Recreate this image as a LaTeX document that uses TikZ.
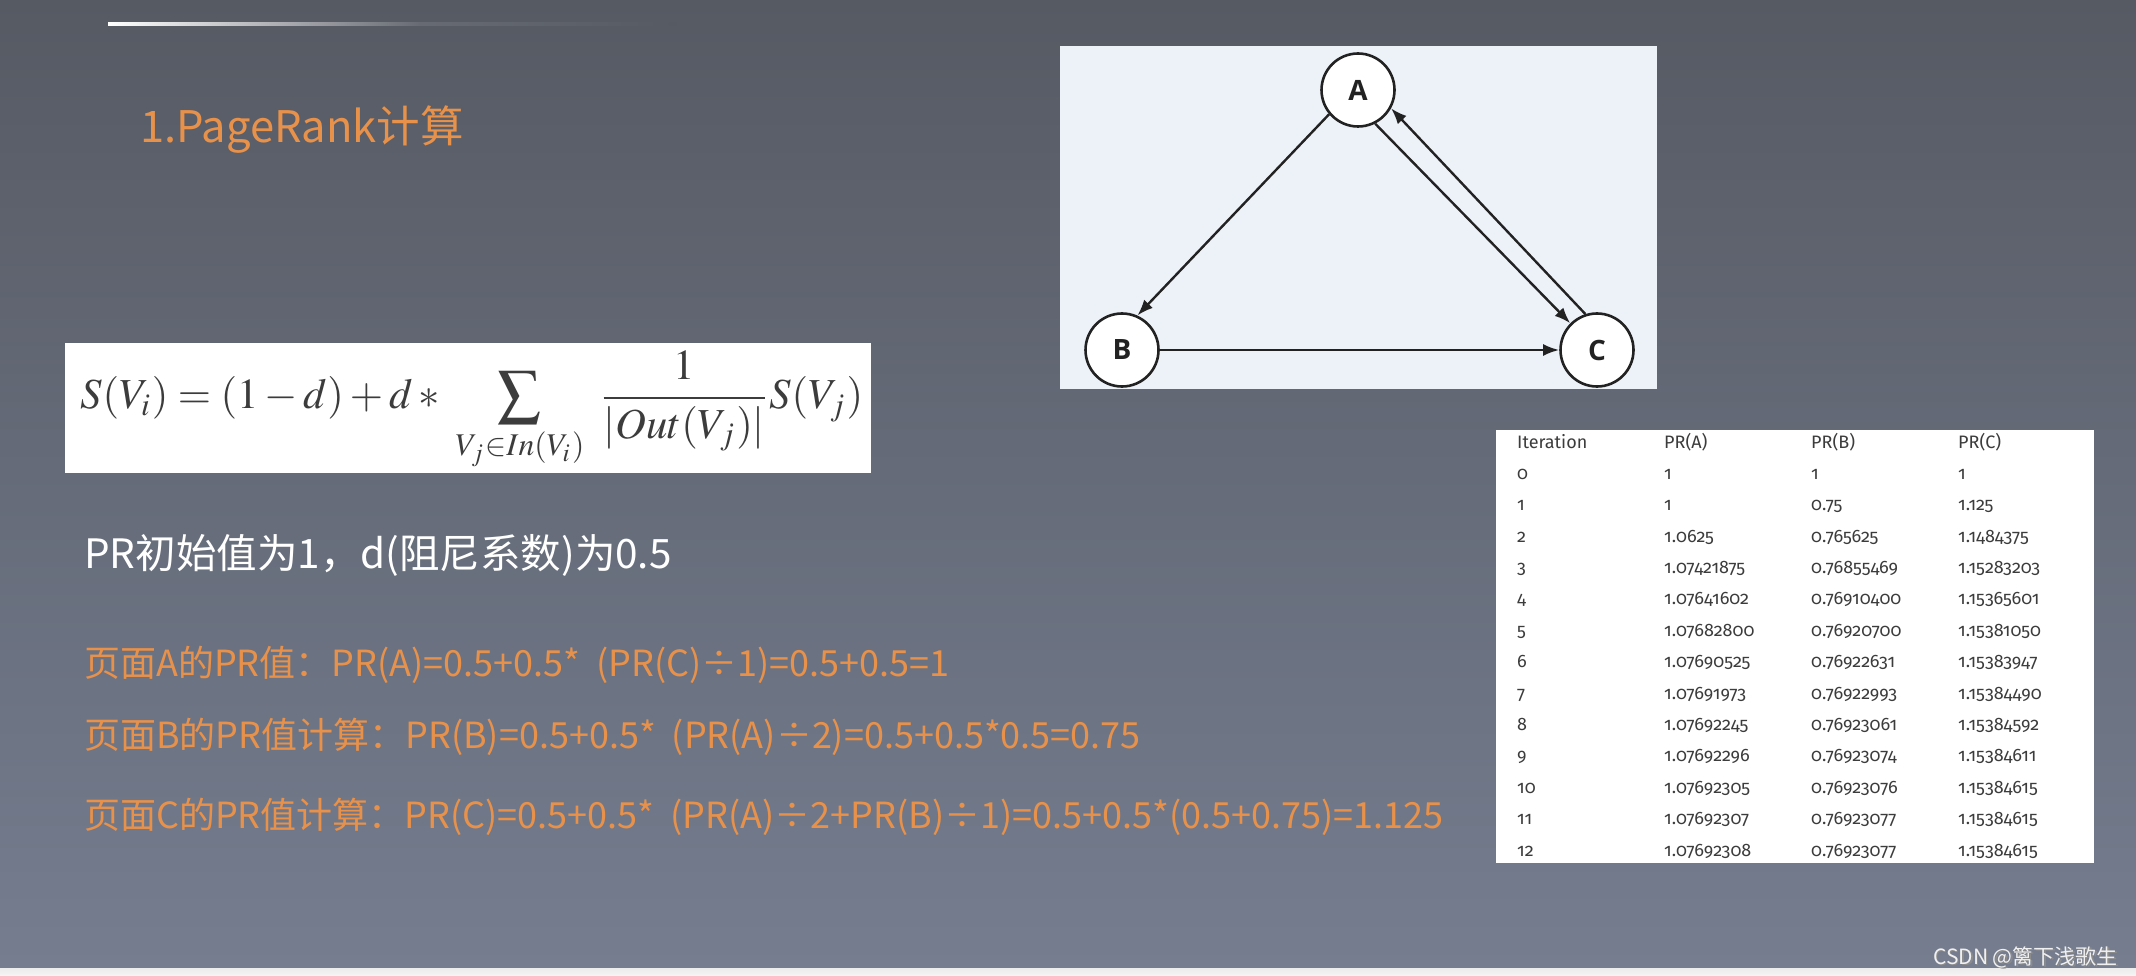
\documentclass[tikz,border=0pt]{standalone}
\usepackage{mathptmx}
\usepackage{fontspec}
\setmainfont{Noto Sans CJK SC}
\newfontfamily\tabfont[Numbers=OldStyle]{Fira Sans}
\newfontfamily\nodefont{Open Sans}
\usepackage{graphicx}
\usetikzlibrary{arrows.meta}
\definecolor{bgtop}{RGB}{86,90,99}
\definecolor{bgbot}{RGB}{117,125,143}
\definecolor{orangetxt}{RGB}{232,145,74}
\definecolor{panelbg}{RGB}{237,242,249}
\definecolor{inkdark}{RGB}{34,34,34}
\definecolor{tabink}{RGB}{60,60,60}
\definecolor{formink}{RGB}{60,60,60}
\tikzset{
  gnode/.style={circle, draw=inkdark, line width=2.6pt, fill=white, minimum size=73pt, inner sep=0pt,
    font=\nodefont\bfseries\fontsize{28pt}{30pt}\selectfont, text=inkdark},
  gedge/.style={draw=inkdark, line width=2.4pt, -{Latex[length=16pt,width=12pt]}},
  orangeline/.style={anchor=base west, inner sep=0pt, text=orangetxt, font=\fontsize{36pt}{40pt}\selectfont},
  tabcell/.style={anchor=base west, inner sep=0pt, text=tabink, font=\tabfont\fontsize{18pt}{20pt}\selectfont},
}
\begin{document}
\begin{tikzpicture}[x=1pt,y=-1pt]
\useasboundingbox (0,0) rectangle (2136,976);
% background
\shade[top color=bgtop, bottom color=bgbot] (0,0) rectangle (2136,968);
\shade[top color=white!85!gray, bottom color=white!92!gray] (0,968) rectangle (2136,976);
% decorative top line
\shade[left color=white, right color=bgtop!90!white] (108,23) rectangle (420,26);
\shade[left color=bgtop!90!white, right color=bgtop] (420,23) rectangle (676,26);

% title
\node[anchor=base west, inner sep=0pt, text=orangetxt, font=\fontsize{43.5pt}{50pt}\selectfont] (title) at (140,143) {1.PageRank计算};

% graph panel
\fill[panelbg] (1060,46) rectangle (1657,389);
\node[gnode] (A) at (1358,90) {A};
\node[gnode] (B) at (1122,350) {B};
\node[gnode] (C) at (1597,350) {C};
\draw[gedge] (A.220) -- (B.66);
\draw[gedge] (B.east) -- (C.west);
\draw[gedge] (A.297) -- (C.135);
\draw[gedge] (C.108) -- (A.331);

% formula panel
\fill[white] (65,343) rectangle (871,473);
\node[inner sep=0pt, text=formink] (formula) at (472,411) {\resizebox{782pt}{!}{$\displaystyle S(V_i) = (1-d) + d\ast \ \sum_{V_j\in In(V_i)}\ \frac{1}{|Out(V_j)|}S(V_j)$}};

% white line
\node[anchor=base west, inner sep=0pt, text=white, font=\fontsize{40.5pt}{46pt}\selectfont] (init) at (84,568) {PR初始值为1，d(阻尼系数)为0.5};

% orange lines
\node[orangeline] (lineA) at (84,676) {页面A的PR值：PR(A)=0.5+0.5*\ \ (PR(C)÷1)=0.5+0.5=1};
\node[orangeline] (lineB) at (84,748) {页面B的PR值计算：PR(B)=0.5+0.5*\ \ (PR(A)÷2)=0.5+0.5*0.5=0.75};
\node[orangeline] (lineC) at (84,828) {页面C的PR值计算：PR(C)=0.5+0.5*\ \ (PR(A)÷2+PR(B)÷1)=0.5+0.5*(0.5+0.75)=1.125};

% table panel
\fill[white] (1496,430) rectangle (2094,863);
\node[tabcell] (hIter) at (1517,448) {Iteration};
\node[tabcell] (hA) at (1664,448) {PR(A)};
\node[tabcell] (hB) at (1811,448) {PR(B)};
\node[tabcell] (hC) at (1958,448) {PR(C)};
\foreach \i/\a/\b/\c in {
  0/1/1/1,
  1/1/0.75/1.125,
  2/1.0625/0.765625/1.1484375,
  3/1.07421875/0.76855469/1.15283203,
  4/1.07641602/0.76910400/1.15365601,
  5/1.07682800/0.76920700/1.15381050,
  6/1.07690525/0.76922631/1.15383947,
  7/1.07691973/0.76922993/1.15384490,
  8/1.07692245/0.76923061/1.15384592,
  9/1.07692296/0.76923074/1.15384611,
  10/1.07692305/0.76923076/1.15384615,
  11/1.07692307/0.76923077/1.15384615,
  12/1.07692308/0.76923077/1.15384615}{
  \node[tabcell] (it\i) at (1517,479.3+31.4*\i) {\i};
  \node[tabcell] (pa\i) at (1664,479.3+31.4*\i) {\a};
  \node[tabcell] (pb\i) at (1811,479.3+31.4*\i) {\b};
  \node[tabcell] (pc\i) at (1958,479.3+31.4*\i) {\c};
}

% watermark
\node[anchor=base east, inner sep=0pt, text=black!45, font=\fontsize{21pt}{24pt}\selectfont] (wmshadow) at (2119.5,965.5) {CSDN @篱下浅歌生};
\node[anchor=base east, inner sep=0pt, text=white!88!gray, font=\fontsize{21pt}{24pt}\selectfont] (wm) at (2118,964) {CSDN @篱下浅歌生};
\end{tikzpicture}
\end{document}
